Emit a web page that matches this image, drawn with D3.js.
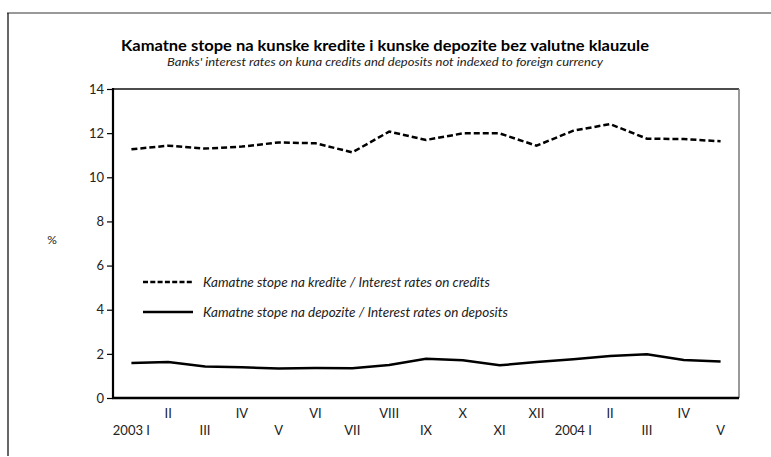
<!DOCTYPE html>
<html lang="en">
<head>
<meta charset="UTF-8">
<title>Kamatne stope</title>
<script src="https://d3js.org/d3.v7.min.js"></script>
<style>
  body { margin: 0; background: #fff; }
  text { font-family: Lato, "Open Sans", sans-serif; fill: #222; }
</style>
</head>
<body>
<script>

    // data
    var months = ['2003 I', 'II', 'III', 'IV', 'V', 'VI', 'VII', 'VIII', 'IX', 'X', 'XI', 'XII',
                  '2004 I', 'II', 'III', 'IV', 'V'];
    var credits = [11.27, 11.43, 11.30, 11.39, 11.58, 11.54, 11.13, 12.07, 11.69, 11.99, 11.99,
                   11.43, 12.11, 12.41, 11.75, 11.73, 11.63];
    var deposits = [1.59, 1.63, 1.43, 1.39, 1.34, 1.36, 1.35, 1.50, 1.78, 1.71, 1.48, 1.63,
                    1.76, 1.90, 1.98, 1.72, 1.65];
    var yTicks = [0, 2, 4, 6, 8, 10, 12, 14];
    var legendLabels = ['Kamatne stope na kredite / Interest rates on credits',
                        'Kamatne stope na depozite / Interest rates on deposits'];

    var W = 771, H = 457;
    // plot box (note: "top" is taken by window.top, so prefixed names)
    var pLeft = 113, pRight = 739, pTop = 89, pBottom = 398;

    var svg = d3.select('body').append('svg')
        .attr('width', W)
        .attr('height', H);

    // outer frame (only top and left are visible in the original)
    svg.append('line').attr('x1', 7).attr('x2', W).attr('y1', 13).attr('y2', 13)
        .attr('stroke', '#777').attr('stroke-width', 1.5);
    svg.append('line').attr('x1', 8).attr('x2', 8).attr('y1', 13).attr('y2', 456)
        .attr('stroke', '#000').attr('stroke-width', 1.2);

    // titles
    svg.append('text')
        .attr('x', 385).attr('y', 51)
        .attr('text-anchor', 'middle')
        .attr('font-size', 15).attr('font-weight', 'bold')
        .attr('textLength', 528).attr('lengthAdjust', 'spacingAndGlyphs')
        .style('fill', '#000')
        .text('Kamatne stope na kunske kredite i kunske depozite bez valutne klauzule');
    svg.append('text')
        .attr('x', 385).attr('y', 66)
        .attr('text-anchor', 'middle')
        .attr('font-size', 12).attr('font-style', 'italic')
        .attr('textLength', 436).attr('lengthAdjust', 'spacingAndGlyphs')
        .text("Banks' interest rates on kuna credits and deposits not indexed to foreign currency");

    var x = d3.scaleBand().domain(d3.range(months.length)).range([pLeft, pRight]);
    var y = d3.scaleLinear().domain([0, 14]).range([pBottom, pTop]);

    // y axis
    var yAxis = svg.append('g')
        .attr('transform', 'translate(' + pLeft + ',0)')
        .call(d3.axisLeft(y).tickValues(yTicks).tickSize(6).tickPadding(3));
    yAxis.select('.domain').remove();
    yAxis.selectAll('.tick line').attr('stroke', '#000').attr('stroke-width', 1.2);
    yAxis.selectAll('.tick text')
        .attr('font-family', 'Lato, "Open Sans", sans-serif')
        .attr('font-size', 13).style('fill', '#222');

    svg.append('text')
        .attr('x', 52).attr('y', 244)
        .attr('text-anchor', 'middle')
        .attr('font-size', 12)
        .text('%');

    // plot frame
    svg.append('line').attr('x1', pLeft).attr('x2', pRight).attr('y1', pTop).attr('y2', pTop)
        .attr('stroke', '#111').attr('stroke-width', 1.5);
    svg.append('line').attr('x1', pRight).attr('x2', pRight).attr('y1', pTop).attr('y2', pBottom)
        .attr('stroke', '#777').attr('stroke-width', 1.5);
    svg.append('line').attr('x1', pLeft).attr('x2', pLeft).attr('y1', pTop - 1).attr('y2', pBottom + 1)
        .attr('stroke', '#000').attr('stroke-width', 2.2);
    svg.append('line').attr('x1', pLeft - 1).attr('x2', pRight).attr('y1', pBottom).attr('y2', pBottom)
        .attr('stroke', '#000').attr('stroke-width', 2.5);

    // x labels on two rows: even positions lower, odd positions upper
    svg.append('g').selectAll('text')
        .data(months)
        .enter()
        .append('text')
        .attr('x', function (d, i) { return x(i) + x.bandwidth() / 2; })
        .attr('y', function (d, i) { return i % 2 === 0 ? 435 : 418; })
        .attr('text-anchor', 'middle')
        .attr('font-size', 13)
        .text(function (d) { return d; });

    var line = d3.line()
        .x(function (d, i) { return x(i) + x.bandwidth() / 2; })
        .y(function (d) { return y(d); });

    svg.append('path')
        .attr('d', line(credits))
        .attr('fill', 'none')
        .attr('stroke', '#000')
        .attr('stroke-width', 2.5)
        .attr('stroke-dasharray', '6,3');

    svg.append('path')
        .attr('d', line(deposits))
        .attr('fill', 'none')
        .attr('stroke', '#000')
        .attr('stroke-width', 2.5);

    // legend
    var legend = svg.append('g');
    legend.selectAll('line')
        .data(legendLabels)
        .enter()
        .append('line')
        .attr('x1', 143).attr('x2', 193)
        .attr('y1', function (d, i) { return 282 + i * 30; })
        .attr('y2', function (d, i) { return 282 + i * 30; })
        .attr('stroke', '#000')
        .attr('stroke-width', 2.5)
        .attr('stroke-dasharray', function (d, i) { return i === 0 ? '5,2.3' : null; });
    legend.selectAll('text')
        .data(legendLabels)
        .enter()
        .append('text')
        .attr('x', 203)
        .attr('y', function (d, i) { return 287 + i * 30; })
        .attr('font-size', 13.5)
        .attr('font-style', 'italic')
        .text(function (d) { return d; });

</script>
</body>
</html>
